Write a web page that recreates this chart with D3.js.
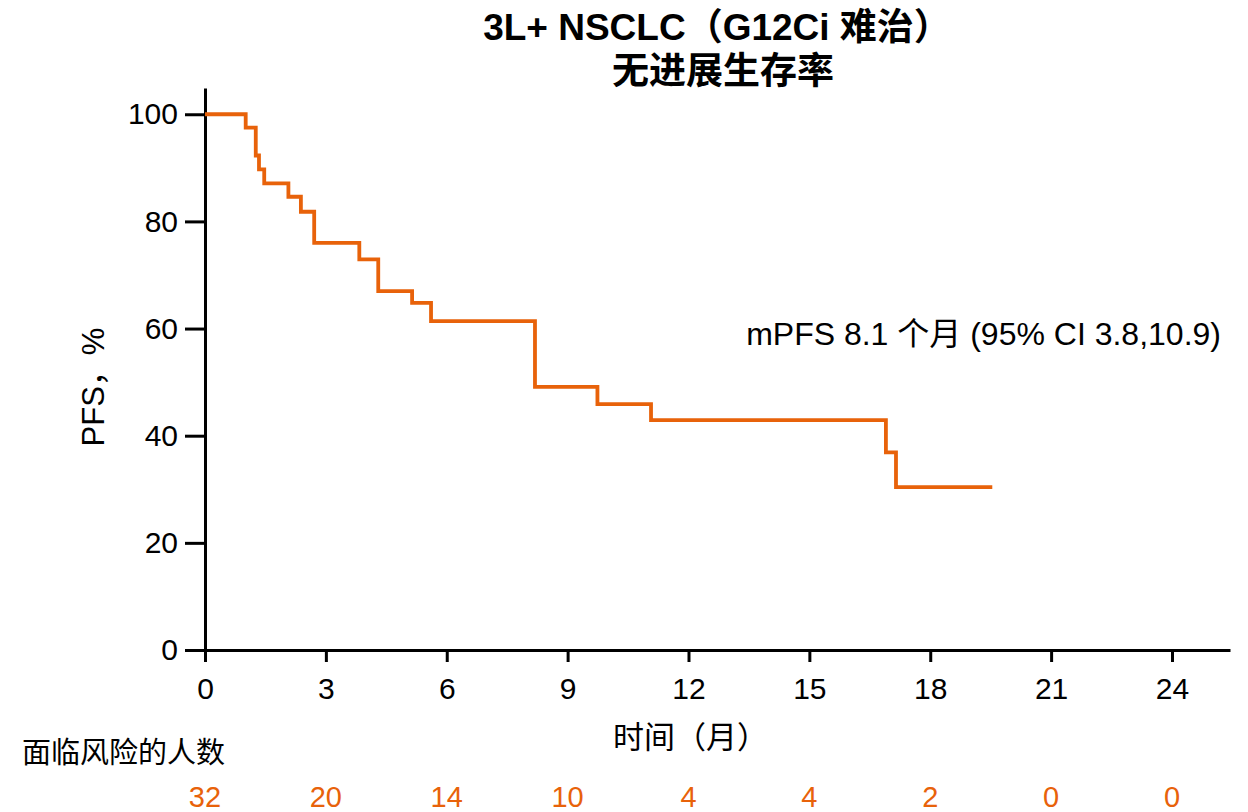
<!DOCTYPE html>
<html>
<head>
<meta charset="utf-8">
<script src="https://cdn.jsdelivr.net/npm/d3@7"></script>
<style>
  body { margin: 0; background: #fff; }
  text { font-family: "Liberation Sans", Arial, "Noto Sans CJK SC", sans-serif; }
</style>
</head>
<body>
<div id="vis"></div>
<script>
// KM curve: step times (months) and PFS (%)
const stepTimes = [0, 1.01, 1.26, 1.34, 1.47, 2.07, 2.38, 2.71, 3.83, 4.30, 5.14, 5.61, 8.19, 9.74, 11.07, 16.9, 17.15];
const pfsValues = [100, 97.5, 92.3, 89.7, 87.1, 84.6, 81.8, 76.0, 72.9, 67.0, 64.8, 61.4, 49.1, 45.9, 42.9, 36.9, 30.4];
const lastFollowUp = 19.54;

const xTicks = [0, 3, 6, 9, 12, 15, 18, 21, 24];
const yTicks = [0, 20, 40, 60, 80, 100];
const atRisk = [32, 20, 14, 10, 4, 4, 2, 0, 0];

const width = 1248, height = 812;
const orange = '#e8620a';

const svg = d3.select('#vis').append('svg')
  .attr('width', width)
  .attr('height', height);

const x = d3.scaleLinear().domain([0, 25.44]).range([205, 1230]);
const y = d3.scaleLinear().domain([0, 104.9]).range([650, 88]);

// axes
const xAxis = svg.append('g')
  .attr('transform', `translate(0,${y(0)})`)
  .call(d3.axisBottom(x).tickValues(xTicks).tickSize(12).tickPadding(10).tickSizeOuter(0));
const yAxis = svg.append('g')
  .attr('transform', `translate(${x(0)},0)`)
  .call(d3.axisLeft(y).tickValues(yTicks).tickSize(20).tickPadding(7).tickSizeOuter(0));

[xAxis, yAxis].forEach(g => {
  g.select('.domain').attr('stroke', '#000').attr('stroke-width', 3);
  g.selectAll('.tick line').attr('stroke', '#000').attr('stroke-width', 3);
  g.selectAll('.tick text')
    .attr('fill', '#000')
    .style('font-size', '30px')
    .style('font-family', '"Liberation Sans", Arial, sans-serif');
});
xAxis.selectAll('.tick text').attr('dy', '0.9em');

// survival curve
const pts = stepTimes.map((t, i) => [t, pfsValues[i]]);
pts.push([lastFollowUp, pfsValues[pfsValues.length - 1]]);

svg.append('path')
  .datum(pts)
  .attr('fill', 'none')
  .attr('stroke', orange)
  .attr('stroke-width', 3.8)
  .attr('d', d3.line().x(d => x(d[0])).y(d => y(d[1])).curve(d3.curveStepAfter));

// titles
svg.append('text')
  .attr('x', 717).attr('y', 40)
  .attr('text-anchor', 'middle')
  .style('font-size', '37px').style('font-weight', 700)
  .text('3L+ NSCLC（G12Ci 难治）');
svg.append('text')
  .attr('x', 723).attr('y', 84)
  .attr('text-anchor', 'middle')
  .style('font-size', '37px').style('font-weight', 700)
  .text('无进展生存率');

// axis labels
svg.append('text')
  .attr('transform', `translate(104,387) rotate(-90)`)
  .attr('text-anchor', 'middle')
  .style('font-size', '31px')
  .text('PFS，%');
svg.append('text')
  .attr('x', 613).attr('y', 748)
  .style('font-size', '31px')
  .text('时间（月）');

// annotation
svg.append('text')
  .attr('x', 1221).attr('y', 345)
  .attr('text-anchor', 'end')
  .style('font-size', '32px')
  .text('mPFS 8.1 个月 (95% CI 3.8,10.9)');

// number at risk
svg.append('text')
  .attr('x', 22).attr('y', 763)
  .style('font-size', '29px')
  .text('面临风险的人数');

svg.append('g').selectAll('text')
  .data(atRisk)
  .enter().append('text')
  .attr('x', (d, i) => x(xTicks[i]))
  .attr('y', 807)
  .attr('text-anchor', 'middle')
  .attr('fill', orange)
  .style('font-size', '29px')
  .text(d => d);
</script>
</body>
</html>
